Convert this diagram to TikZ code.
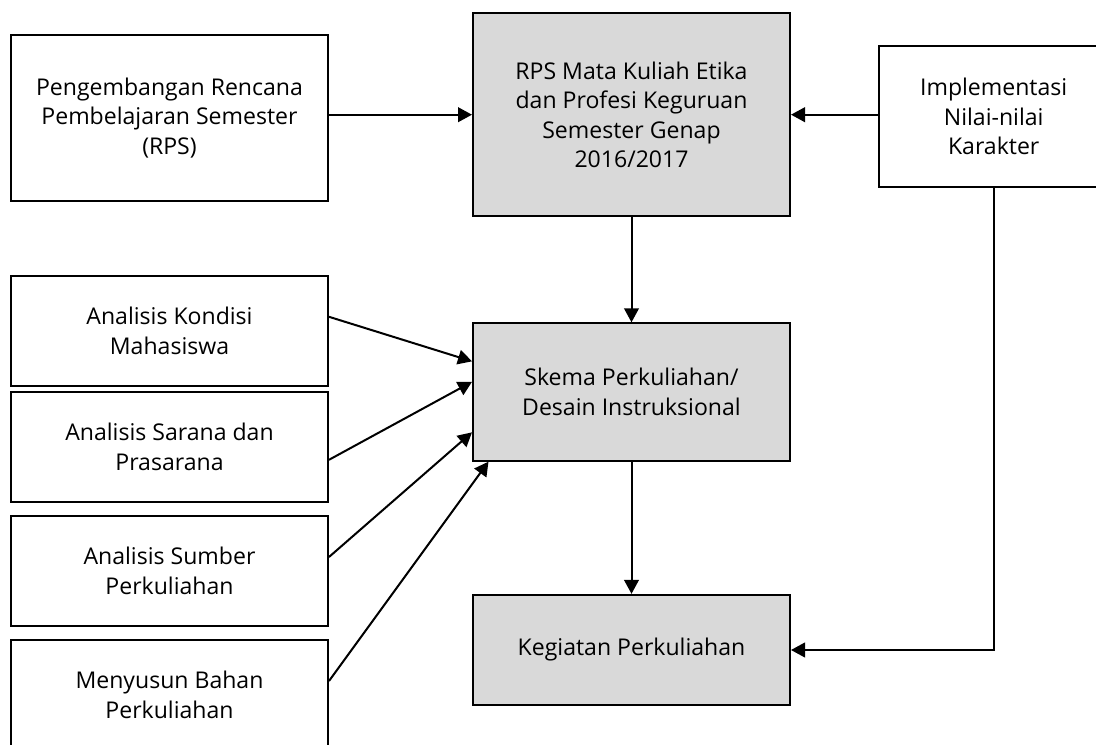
\documentclass[tikz,border=0pt]{standalone}
\usepackage{fontspec}
\setmainfont{Open Sans}
\usetikzlibrary{arrows.meta,calc}
\definecolor{boxgray}{HTML}{D9D9D9}
\begin{document}
\begin{tikzpicture}[x=0.75pt,y=-0.75pt,
  box/.style={draw=black, line width=1.5pt, align=center, font=\fontsize{17.3}{22}\selectfont, inner sep=0pt, minimum width=237.75pt},
  graybox/.style={box, fill=boxgray},
  arr/.style={line width=1.5pt, -{Triangle[length=10.5pt,width=11pt]}}]
\useasboundingbox (0,0) rectangle (1096,745);
\node[box, minimum height=124.5pt] (pr) at (169.5,118) {Pengembangan Rencana\\Pembelajaran Semester\\(RPS)};
\node[graybox, minimum height=152.25pt] (rps) at (631.5,114.7) {RPS Mata Kuliah Etika\\dan Profesi Keguruan\\Semester Genap\\2016/2017};
\node[box, minimum width=172pt, minimum height=106.2pt] (imp) at (993.7,116.5) {Implementasi\\Nilai-nilai\\Karakter};
\node[box, minimum height=82.3pt] (kon) at (169.5,330.8) {Analisis Kondisi\\Mahasiswa};
\node[box, minimum height=82.3pt] (sar) at (169.5,446.8) {Analisis Sarana dan\\Prasarana};
\node[box, minimum height=82.5pt] (sum) at (169.5,571) {Analisis Sumber\\Perkuliahan};
\node[box, minimum height=82.5pt] (men) at (169.5,695) {Menyusun Bahan\\Perkuliahan};
\node[graybox, minimum height=103pt] (ske) at (631.5,392) {Skema Perkuliahan/\\Desain Instruksional};
\node[graybox, minimum height=82.7pt] (keg) at (631.5,650) {Kegiatan Perkuliahan};

\draw[arr] (rps.west -| pr.east) -- (rps.west);
\draw[arr] (rps.east -| imp.west) -- (rps.east);
\draw[arr] (rps.south) -- (ske.north);
\draw[arr] (ske.south) -- (keg.north);
\draw[arr] (imp.south) |- (keg.east);

\draw[arr] ($(kon.east)+(0,-14)$) -- ($(ske.north west)+(0,39)$);
\draw[arr] ($(sar.east)+(0,13)$) -- ($(ske.north west)+(0,59.5)$);
\draw[arr] ($(sum.east)+(0,-14)$) -- ($(ske.north west)+(0,110)$);
\draw[arr] ($(men.east)+(0,-14)$) -- ($(ske.south west)+(16.5,0)$);
\end{tikzpicture}
\end{document}
